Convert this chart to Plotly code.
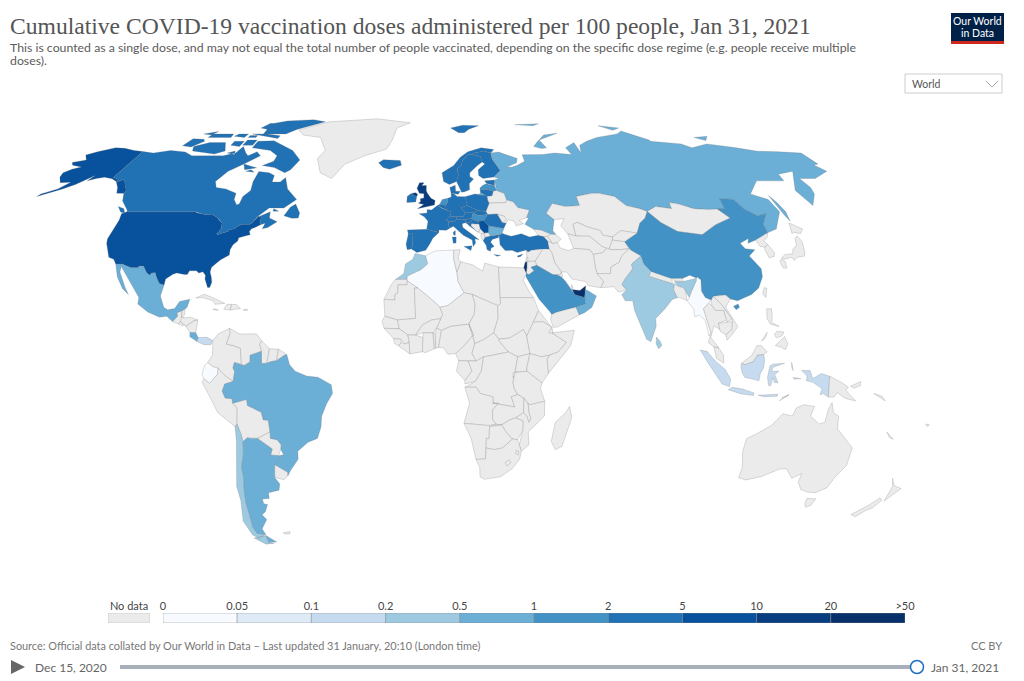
import numpy as np
import plotly.graph_objects as go

# bin edges of the colour legend
legend_labels = ['0', '0.05', '0.1', '0.2', '0.5', '1', '2', '5', '10', '20', '>50']
legend_edges = [0, 0.05, 0.1, 0.2, 0.5, 1, 2, 5, 10, 20]
legend_colors = ['#f7fbff', '#deebf7', '#c6dbef', '#9ecae1', '#6baed6',
                 '#4292c6', '#2171b5', '#08519c', '#083d7f', '#08306b']
no_data_color = '#ebebeb'

# doses per 100 people, read roughly from the colour of each country
doses = {
    'USA': 9.4, 'Canada': 2.7, 'Mexico': 0.55, 'Costa Rica': 0.7, 'Panama': 0.15,
    'Brazil': 0.9, 'Argentina': 0.8, 'Chile': 0.4, 'Ecuador': 0.01,
    'UK': 13.5, 'Ireland': 3.2, 'Iceland': 2.6, 'Norway': 3.3, 'Sweden': 2.8, 'Finland': 2.6,
    'Denmark': 3.9, 'Estonia': 3.6, 'Latvia': 1.5, 'Lithuania': 3.4, 'Poland': 3.9,
    'Germany': 2.8, 'Netherlands': 1.6, 'Belgium': 2.3, 'France': 2.4, 'Spain': 3.2,
    'Portugal': 3.0, 'Italy': 3.4, 'Switzerland': 3.1, 'Austria': 2.7, 'Czechia': 2.4,
    'Slovakia': 2.6, 'Hungary': 1.9, 'Slovenia': 3.7, 'Croatia': 2.2, 'Serbia': 6.0,
    'Romania': 3.2, 'Bulgaria': 0.9, 'Greece': 2.7, 'Turkey': 3.0, 'Cyprus': 2.5,
    'Russia': 0.7, 'Israel': 53, 'UAE': 32, 'Saudi Arabia': 1.5, 'Oman': 0.8,
    'China': 1.6, 'India': 0.3, 'Sri Lanka': 0.3, 'Myanmar': 0.02, 'Indonesia': 0.18,
    'Algeria': 0.01, 'Morocco': 0.4,
}

# country outlines as "lon,lat lon,lat ..." rings
outlines = {
    'USA': [
        '-124.7,48.4 -123,49 -95.2,49 -94.6,48.7 -92,48.3 -89.6,48 -88.4,48.3 -84.9,46.9 -84.5,46.5 -83.5,46 -82.5,45.3 -82.1,43.6 -82.5,42.6 -83.1,42 -82.7,41.7 -79,42.8 -79,43.3 -76.8,43.6 -76.3,44.2 -74.7,45 -71.5,45 -70.8,45.4 -70,46.7 -69.2,47.45 -68.3,47.35 -67.8,47.1 -67.8,45.7 -67,44.9 -69,44 -70.2,43.6 -70.7,42.7 -70,41.7 -71.5,41.4 -74,40.7 -74,39.7 -75.4,38.5 -76,37 -75.7,35.3 -77,34.6 -78.5,33.8 -79.9,32.7 -81.2,31.5 -81.3,30 -80.5,28.4 -80,26.8 -80.4,25.2 -81.2,25.2 -81.8,26.2 -82.7,27.8 -82.8,29 -84,30.1 -85.4,29.7 -86.5,30.4 -89,30.4 -89.5,29.2 -90.5,29.2 -93.5,29.7 -94.8,29.3 -97.1,27.8 -97.2,25.9 -99.1,26.4 -100.5,28.2 -101.5,29.8 -102.7,29.7 -103.2,29 -104.5,29.6 -106.5,31.8 -108.2,31.8 -108.2,31.3 -111,31.3 -114.8,32.5 -117.1,32.5 -118.5,34 -120.6,34.6 -122,36.7 -123.8,39 -124.3,40.4 -124.2,43 -124,46.3',
        '-141,69.6 -141,60.3 -139,60 -137.5,58.9 -135.5,59.7 -133.4,58.4 -130,55.9 -130,55 -133,55 -135,57 -138,59 -141,59.9 -145,60.4 -148,60 -151,59.2 -150,61 -153,59 -154.5,58 -158,56.5 -163,54.8 -165.5,54 -164.8,54.8 -160,56.5 -157.5,58.7 -162,58.6 -165,60.5 -166,62 -164,63.2 -161,64 -166,64.6 -168,65.6 -163,66.5 -166.5,68.3 -163,69.5 -157,71 -152,70.8 -146,70',
    ],
    'Canada': [
        '-141,69.6 -135,69 -128,70 -120,69.4 -115,68 -108,68 -100,68 -95,69 -94,71.5 -90,69 -88,68 -85,69.5 -82,68 -87,65 -92,62.5 -94.5,59 -92.5,57 -88,56.5 -82.5,55 -82,53 -80,51.3 -79,51.5 -79,54 -77,56 -78,59 -78,62.4 -73,62 -70,61 -69.5,58.8 -66,58.8 -64.5,60.3 -61.5,56.5 -56,53 -60,50.2 -66,50.2 -70,47 -65,49 -64.5,47 -61,45.8 -64,44 -66,43.6 -65.5,45.3 -67,44.9 -67.8,45.7 -67.8,47.1 -68.3,47.35 -69.2,47.45 -70,46.7 -70.8,45.4 -71.5,45 -74.7,45 -76.3,44.2 -76.8,43.6 -79,43.3 -79,42.8 -82.7,41.7 -83.1,42 -82.5,42.6 -82.1,43.6 -82.5,45.3 -83.5,46 -84.5,46.5 -84.9,46.9 -88.4,48.3 -89.6,48 -92,48.3 -94.6,48.7 -95.2,49 -123,49 -123.3,49.5 -128,52.5 -130,55 -130,55.9 -133.4,58.4 -135.5,59.7 -137.5,58.9 -139,60 -141,60.3',
        '-59,47.7 -55.5,46.9 -53,47 -53,48.6 -55.7,51.5 -57.5,50.5',
        '-128,50.7 -125,50 -123.5,48.5 -125.5,48.9',
        '-62,66.5 -64,63 -66,62 -72,63.8 -78,64.5 -74,66 -74,68 -79,70 -89,71 -89,73.5 -81,73.7 -73,71.5 -68,70',
        '-117,69.8 -105,68.7 -101,69.8 -105,73 -113,73 -119,71.5',
        '-125,71.8 -120,71.3 -116.5,73.5 -118,74.3 -124,74.5',
        '-90,76.5 -78,76.5 -74,78.5 -62,82 -70,83.1 -85,82.5 -92,81',
        '-96,76.5 -80,74.6 -80,75.7 -88,76.5',
        '-87,65 -80,63.7 -85,63',
        '-117,75 -105,75 -106,76.5 -117,76.5',
        '-95,72 -90,72 -90,74 -95,74',
        '-101,72 -96,71.5 -96,73.5 -101,73.5',
        '-64,50 -61.7,49.2 -64,49.2',
        '-122,76.5 -116,77.5 -117,76',
        '-104,75.5 -98,75 -98,76.5 -103,76.5',
        '-96,75 -92,75 -92,75.8 -96,75.8',
        '-99,69 -95,68.5 -96,69.8',
        '-95,79 -88,78 -87,80.5 -93,81.3',
        '-84,62.5 -80,62.2 -82,63',
    ],
    'Greenland': ['-73,78.2 -60,82 -32,83.6 -12,81.5 -19,79 -20,74 -22,70.5 -32,68 -40,65 -44,60 -50,62 -54,67 -52,70 -58,75 -68,76'],
    'Iceland': ['-24.5,65.5 -22,63.8 -19,63.2 -13.7,64.6 -14.5,66.3 -18,66.5 -22.5,66.6'],
    'Mexico': ['-117.1,32.5 -114.8,32.5 -111,31.3 -108.2,31.3 -108.2,31.8 -106.5,31.8 -104.5,29.6 -103.2,29 -102.7,29.7 -101.5,29.8 -100.5,28.2 -99.1,26.4 -97.2,25.9 -97.8,22.5 -96,19 -94.5,18.2 -92,18.6 -90.6,20.8 -87,21.5 -87.6,19 -88.3,18.4 -89.2,17.9 -91,17.2 -90.5,16.2 -92.2,14.5 -94.5,16.2 -97,15.9 -101.5,17.5 -105.5,20 -105.5,22 -109,26 -112.5,29.8 -114.7,31.7 -114.5,30 -111,25 -109.5,23 -112,24.8 -115,28.5 -116,30.5'],
    'Guatemala': ['-92.2,14.5 -90.5,16.2 -91,17.2 -89.2,17.9 -89.2,15.9 -88.2,15.7 -89.4,14.4 -90.1,13.8'],
    'Belize': ['-89.2,17.9 -88.3,18.4 -88.2,16.5 -89.2,15.9'],
    'Honduras': ['-89.2,15.9 -88.2,15.7 -86,15.9 -83.2,15 -84.7,14.7 -87.3,13 -87.8,13.4 -89.4,14.4'],
    'El Salvador': ['-90.1,13.8 -89.4,14.4 -87.8,13.4 -88.5,13.2'],
    'Nicaragua': ['-87.3,13 -84.7,14.7 -83.2,15 -83.6,11 -85.7,11.1'],
    'Costa Rica': ['-85.7,11.1 -83.6,11 -82.6,9.5 -83,8.3 -85.6,9.8'],
    'Panama': ['-82.6,9.5 -79.5,9.6 -77.4,8.6 -78,7.3 -80.5,7.3 -83,8.3'],
    'Cuba': ['-84.9,21.9 -82,23.1 -77,21.3 -74.2,20.2 -77.7,19.9 -78.5,21 -82.5,22'],
    'Haiti': ['-74.4,18.4 -72,18.1 -71.7,19.9 -73.4,19.9'],
    'Dominican Rep': ['-72,18.1 -68.4,18.6 -69.9,19.8 -71.7,19.9'],
    'Jamaica': ['-78.3,18.3 -76.3,18 -76.5,18.2 -77.5,18.5'],
    'Puerto Rico': ['-67.2,18.4 -65.7,18.2 -66.2,18 -67.2,18'],
    'Colombia': ['-77.4,8.6 -75.5,10.7 -71.7,12.4 -71.3,11 -72.5,7.5 -70,7 -67.5,6.2 -67,1.2 -69.5,1.7 -70,0 -69.4,-1 -70,-4.2 -73,-2.3 -75.2,-0.1 -77,0.4 -79,1.7 -77.3,4 -77.5,7'],
    'Venezuela': ['-71.7,12.4 -68,10.6 -62,10.7 -60,8.5 -60.7,7.5 -60,5.2 -64,4 -64,1.9 -66,0.8 -67,1.2 -67.5,6.2 -70,7 -72.5,7.5 -71.3,11'],
    'Guyana': ['-60,8.5 -57.2,6 -58,1.5 -59.9,1.3 -60,5.2 -60.7,7.5'],
    'Suriname': ['-57.2,6 -54,5.9 -54.6,2.3 -56.5,2 -58,1.5'],
    'French Guiana': ['-54,5.9 -52,4.8 -51,4.2 -52,3.9 -54.6,2.3'],
    'Ecuador': ['-80,0.8 -79,1.7 -77,0.4 -75.2,-0.1 -75.5,-2 -78.3,-4.8 -80.3,-3.4 -81,-2'],
    'Peru': ['-81,-4.5 -80.3,-3.4 -78.3,-4.8 -75.5,-2 -75.2,-0.1 -73,-2.3 -70,-4.2 -73,-5 -74,-7.3 -73,-9.4 -70.6,-9.6 -70.5,-11 -69,-12.5 -69.5,-17.5 -70.3,-18.3 -76,-14 -79,-8'],
    'Bolivia': ['-69,-12.5 -70.5,-11 -65.4,-9.8 -65.3,-11.7 -60.5,-13.8 -60,-16.2 -58.2,-16.3 -58,-20 -62.7,-22 -65,-22 -66.3,-21.8 -68,-23 -68.5,-20.5 -69.5,-17.5'],
    'Paraguay': ['-58,-20 -57.9,-20 -58,-22 -55.6,-22.4 -54.3,-24 -54.6,-25.5 -55.8,-27.4 -58.6,-27.2 -57.7,-25.3 -62.7,-22'],
    'Uruguay': ['-57.6,-30.2 -53.2,-32.6 -53.4,-33.7 -55,-34.9 -58.4,-34.2 -58.2,-33'],
    'Brazil': ['-60,5.2 -59.9,1.3 -58,1.5 -56.5,2 -54.6,2.3 -52,3.9 -51,4.2 -50,1 -48,-1 -44,-2.5 -40,-2.9 -35.3,-5.2 -34.9,-8 -37,-11 -39,-15 -39.5,-18.5 -41,-22 -44.5,-23.2 -48.5,-26 -48.7,-28.5 -52,-32 -53.4,-33.7 -53.2,-32.6 -57.6,-30.2 -55.8,-28.3 -53.8,-27.1 -54.6,-25.5 -54.3,-24 -55.6,-22.4 -58,-22 -57.9,-20 -58.2,-16.3 -60,-16.2 -60.5,-13.8 -65.3,-11.7 -65.4,-9.8 -70.5,-11 -70.6,-9.6 -73,-9.4 -74,-7.3 -73,-5 -70,-4.2 -69.4,-1 -70,0 -69.5,1.7 -67,1.2 -66,0.8 -64,1.9 -64,4'],
    'Chile': [
        '-69.5,-17.5 -68.5,-20.5 -68,-23 -68.5,-27 -70,-31 -70,-34 -71,-38 -71.8,-42 -72,-46 -72.5,-50 -71.8,-52 -68.5,-52.3 -72,-53.5 -74,-52.5 -75.5,-48 -73.5,-41.5 -73.5,-37 -71.5,-30 -70.4,-23 -70.3,-18.3',
        '-68.6,-52.7 -68.6,-54.9 -66.5,-55.2 -70,-55.5 -74,-53.5',
    ],
    'Argentina': [
        '-65,-22 -62.7,-22 -57.7,-25.3 -58.6,-27.2 -55.8,-27.4 -53.8,-27.1 -55.8,-28.3 -57.6,-30.2 -58.2,-33 -58.4,-34.2 -57,-36.3 -57.8,-38.2 -62,-39 -62.3,-40.8 -65,-41 -65,-42.5 -63.6,-42.7 -65.3,-45 -67,-46 -65.8,-47.5 -69,-50.5 -68.5,-52.3 -71.8,-52 -72.5,-50 -72,-46 -71.8,-42 -71,-38 -70,-34 -70,-31 -68.5,-27 -68,-23 -66.3,-21.8',
        '-68.6,-52.7 -65.2,-54.8 -68.6,-54.9',
    ],
    'Falklands': ['-61,-51.8 -58,-51.4 -58.5,-52.2 -60.5,-52.2'],
    'Norway': [
        '5,62 7,63 10.5,64.5 14,67.5 18,69.5 25,71 31,70.3 29,69 26,69.8 21,69 20,68.5 18,68.5 15,66.5 14,64.5 12,63.5 12.2,61 11.2,59 8,58 5.5,59',
        '11,79 15,77 18,77 21,78.5 27,80 18,80.2',
    ],
    'Sweden': ['11.2,59 12.2,61 12,63.5 14,64.5 15,66.5 18,68.5 20,68.5 23.7,67.8 24,65.8 21.5,64.5 17.5,62 17.3,60.7 18.8,59.8 16.7,58.3 16.5,56.2 14.3,55.5 13,55.4 11.8,58'],
    'Finland': ['21,69 26,69.8 29,69 29,66.9 31.5,62.8 28,60.5 23,60 21.3,61 21.5,63 25,65 24,65.8 23.7,67.8 20,68.5'],
    'Denmark': ['8.1,57 10.5,57.7 10.5,55.7 12.5,55.7 11.5,54.7 9.7,54.8 8.5,55'],
    'Estonia': ['23.5,59.2 28,59.5 27.5,57.6 25,58 24.3,58.3'],
    'Latvia': ['21,56.8 22.5,57.7 24.3,58.3 25,58 27.5,57.6 28,56 26.5,55.7 24,56.3 21,56.1'],
    'Lithuania': ['21,56.1 24,56.3 26.5,55.7 25.8,54.2 23.5,54 22.8,54.4 21,55.3'],
    'Belarus': ['23.5,54 25.8,54.2 26.5,55.7 28,56 31,55 31.5,52.9 31,52 24,51.8 23.6,52.6'],
    'Ukraine': ['24,51.8 31,52 31.5,52.9 34,52.3 35.5,50.4 40,49.6 38.2,47.1 35,46.2 36.5,45.2 33.5,44.5 33,46 30.7,46.5 29.7,45.3 28.2,45.5 29.5,47.5 26.6,48.3 22.8,48.1 22.2,49.1'],
    'Moldova': ['26.6,48.3 29.5,47.5 30,46.4 28.2,45.5'],
    'Poland': ['14.2,53.9 18.5,54.8 22.8,54.4 23.5,54 23.6,52.6 24,51.8 22.2,49.1 19,49.4 14.9,51 14.6,52.5'],
    'Germany': ['7,53.4 8.5,53.8 8.5,55 9.7,54.8 11,54 14.2,53.9 14.6,52.5 14.9,51 12.2,50.3 13.8,48.7 13,47.5 10,47.4 7.6,47.6 8.2,49 6.3,49.5 6,51 7,52.3'],
    'Netherlands': ['3.5,51.4 4.7,53 7,53.4 7,52.3 6,51 5.8,50.8 4,51.3'],
    'Belgium': ['2.6,51 3.5,51.4 4,51.3 5.8,50.8 6,51 6.3,49.5 4.8,50 4,50.3'],
    'France': [
        '2.6,51 4,50.3 4.8,50 6.3,49.5 8.2,49 7.6,47.6 6,46.4 7,45.9 7,44.2 7.5,43.8 6,43.1 3.1,43.2 3.1,42.4 -1.7,43.4 -1.2,46 -2.7,47.4 -4.8,48.4 -1.6,48.6 -1.6,49.7 0.2,49.6',
        '8.6,42.5 9.5,43 9.4,41.5 8.8,41.6',
    ],
    'Spain': ['-9.2,43.2 -1.7,43.4 3.1,42.4 0.7,40.6 -0.3,39 -2,36.8 -5.3,36.1 -7.4,37.2 -7,38.5 -7,42 -8.8,41.9'],
    'Portugal': ['-8.8,41.9 -7,42 -7,38.5 -7.4,37.2 -9,37 -9.5,38.7'],
    'Switzerland': ['6,46.4 7.6,47.6 10,47.4 10.4,46.6 9,45.9 7,45.9'],
    'Austria': ['10,47.4 13,47.5 13.8,48.7 17,48.7 16.2,46.9 13.7,46.5 10.4,46.6'],
    'Czechia': ['12.2,50.3 14.9,51 19,49.4 17,48.7 13.8,48.7'],
    'Slovakia': ['17,48.7 19,49.4 22.2,49.1 22.8,48.1 18.8,47.8'],
    'Hungary': ['16.2,46.9 17,48.7 18.8,47.8 22.8,48.1 21,46.2 18.8,45.9 16.5,46.5'],
    'Slovenia': ['13.7,46.5 16.2,46.9 16.5,46.5 15.4,45.5 13.6,45.5'],
    'Croatia': ['13.6,45.5 15.4,45.5 16.5,46.5 18.8,45.9 19,45 16,45.2 15.8,44.5 17.5,43 18.4,42.5 15,44.5 14.3,45.2'],
    'Bosnia': ['16,45.2 19,45 19.3,43.5 18.4,42.5 17.5,43 15.8,44.5'],
    'Serbia': ['18.8,45.9 21,46.2 22.7,44.5 22.4,42.3 20.6,42.2 19.3,43.5 19,45'],
    'Montenegro': ['18.4,42.5 19.3,43.5 20.6,42.2 19.4,41.9'],
    'Albania': ['19.4,41.9 20.6,42.2 20.8,40.8 20,39.7 19.3,40.8'],
    'Macedonia': ['20.6,42.2 22.4,42.3 23,41.3 20.8,40.8'],
    'Greece': [
        '20,39.7 20.8,40.8 23,41.3 26.3,41.7 26,40.8 23.5,40.2 22.8,39.3 24,38 22.8,37.5 22.4,36.5 21.2,37 21,38.4',
        '23.6,35.5 26.2,35.2 24.8,34.9',
    ],
    'Bulgaria': ['22.7,44.5 27.7,43.8 28.5,43.4 27.7,42.5 28,42 26.3,41.7 23,41.3 22.4,42.3'],
    'Romania': ['21,46.2 22.8,48.1 26.6,48.3 28.2,45.5 29.7,45.3 28.5,43.7 27.7,43.8 22.7,44.5'],
    'Italy': [
        '7,45.9 9,45.9 10.4,46.6 13.7,46.5 13.6,45.5 12.3,45.2 12.5,44 16,41.9 18.5,40.1 16.9,40.4 17,39 16,38 15.8,40 12.5,41.5 10.5,43 8.8,44.4 7.5,43.8 7,44.2',
        '12.5,38 15.6,38.2 15.1,36.7',
        '8.2,41 9.7,41 9.6,39.1 8.5,39',
    ],
    'UK': [
        '-5.5,50 -1,50.7 1.4,51.2 1.7,52.7 0,53.4 -1.5,55 -2,55.9 -2,57.6 -4,57.6 -3,58.6 -5,58.6 -6,56.7 -4.9,55 -3,54.9 -3,53.5 -4.5,53.2 -4.3,52.3 -5.2,51.8 -3,51.4',
        '-8,54.5 -6,54 -5.6,54.7 -6.5,55.2 -7.5,55.1',
    ],
    'Ireland': ['-10,52 -6.3,52.2 -6,54 -8,54.5 -7.5,55.1 -8.5,54.9 -10,54'],
    'Turkey': ['26.3,41.7 28,42 31,41.2 35,42 38,41 41.5,41.5 43.5,41.1 44.7,39.7 44.8,37.2 42.3,37.2 38,36.8 36.5,36.2 36,36.9 32.5,36.1 30.6,36.8 28,36.7 26.3,38.5 26.3,40'],
    'Cyprus': ['32.3,35 34.5,35.6 33.7,34.9 32.7,34.6'],
    'Georgia': ['40,43.5 43,43.2 46.5,41.9 45,41.2 43.5,41.1 41.5,41.5'],
    'Armenia': ['43.5,41.1 45,41.2 46.5,38.9 44.7,39.7'],
    'Azerbaijan': ['45,41.2 46.5,41.9 48.3,41.8 50,40.3 48.3,39.2 46.5,38.9'],
    'Russia': [
        '28,59.5 30,60 28,60.5 31.5,62.8 29,66.9 29,69 33,69.4 41,67 40,65.5 35,64 37,63.9 40,64.6 44,66 44,68.4 54,68.5 60,69 68,68.5 67,71 73,73 73,69 75,72 80,73.5 87,75 100,76.5 104,77.7 113,74 113,73.5 127,72.5 130,71 140,72.5 152,71 160,69.7 170,69.5 180,69 180,65 177.5,64.7 179.5,62.5 170,60 163,60 163.5,57 162,54.8 156.7,51 155.5,56 164,62.5 156,61.5 155,59.2 143,59.2 135,54.8 140.5,53 141,49 135,43.5 130.7,42.3 131,45 135,48.4 131,47.7 127.5,49.7 126,53 120.5,53.3 119.5,50 116.5,49.9 113,49.7 107,50 102,51.5 98.5,52 98,50 92,50.7 87.5,49.1 85,50 80,51 77,54 71,55 68,55 61,54 61,51 55,50.7 50,51.7 46.5,48.5 49,46.5 47.5,43 48.3,41.8 46.5,41.9 43,43.2 40,43.5 37,45 39,47 38.2,47.1 40,49.6 35.5,50.4 34,52.3 31.5,52.9 31,55 28,56',
        '51.5,71.5 55,70.7 57.5,71 56,74 68,76.8 60,76 54,73',
        '142,54.3 143,52 143.5,49 142.5,46 142,48',
        '95,80 105,79 100,78',
        '48,80.5 62,81 58,80',
        '138,75 146,75.5 142,73.8',
        '20,54.4 22.8,54.4 21,55.3',
    ],
    'Kazakhstan': ['46.5,48.5 50,51.7 55,50.7 61,51 61,54 68,55 71,55 77,54 80,51 85,50 87.5,49.1 85.5,47 82.5,45.3 80,42.2 74,43 70,41 66.5,41.5 66,43 61,44.3 58,45.6 56,45 56,41.3 53,42 51,44.5 53,46.8 49,46.5'],
    'Mongolia': ['87.5,49.1 92,50.7 98,50 98.5,52 102,51.5 107,50 113,49.7 116.5,49.9 119.5,47 112,44.8 105,41.7 96,42.7 91,45.5'],
    'China': [
        '74,39.5 80,42.2 82.5,45.3 85.5,47 87.5,49.1 91,45.5 96,42.7 105,41.7 112,44.8 119.5,47 116.5,49.9 119.5,50 120.5,53.3 126,53 127.5,49.7 131,47.7 135,48.4 131,45 130.7,42.3 124.5,40 121,39 122,40.5 118,39 119,37.3 122.5,37 119.3,35 122,31 121.5,28.5 119,25 116,23 110.5,21 108,21.6 106.5,22.8 102,22.4 101.2,21.2 99,22 98,24.1 98.7,27.5 95,29 92,28 88.8,28 86,28 81,30.2 79,32.5 78.7,35 75.5,36.8',
        '108.7,19.3 110.5,20 110.8,19 109.5,18.2',
    ],
    'Kyrgyzstan': ['70,41 74,43 80,42.2 74,39.5 69.5,40'],
    'Uzbekistan': ['56,45 58,45.6 61,44.3 66,43 66.5,41.5 70,41 69.5,40 67.5,37.3 65,38 61.2,41.2 56,41.3'],
    'Turkmenistan': ['53,42 56,41.3 61.2,41.2 65,38 66.5,37.3 64.5,36 61,35.5 60,37 54,37.4 53.5,39.5'],
    'Tajikistan': ['67.5,37.3 69.5,40 74,39.5 75,37.3 71.5,37 68,37'],
    'Afghanistan': ['61,35.5 64.5,36 66.5,37.3 68,37 71.5,37 75,37.3 71.5,35 70,33 66.5,31.5 66,29.5 61,29.5 60.8,31.5'],
    'Pakistan': ['61,29.5 66,29.5 66.5,31.5 70,33 71.5,35 75,37.3 75.5,36.8 78.7,35 74.5,32.5 74.5,31 71,27.8 69.5,26 71,24.4 68,23.7 66.5,25.4 61.6,25.1 63,27'],
    'Iran': ['44.7,39.7 46.5,38.9 48.3,39.2 49,37.5 52,36.7 54,37.4 60,37 61,35.5 60.8,31.5 61,29.5 63,27 61.6,25.1 57.3,25.7 56.5,27 51.5,27.8 50,30 48,30 46,33 45.5,36 44.8,37.2'],
    'Iraq': ['38.8,33.4 42.3,37.2 44.8,37.2 45.5,36 46,33 48,30 47.7,29.3 46.5,29.1 44.7,29.2 39.2,32.1'],
    'Syria': ['36,36.9 36.5,36.2 38,36.8 42.3,37.2 38.8,33.4 36,33.3 35.9,34.8'],
    'Lebanon': ['35.1,33.1 36,33.3 36.3,34.5 35.9,34.7'],
    'Jordan': ['35,29.5 35.5,31.5 35.7,33.2 36,33.3 38.8,33.4 39.2,32.1 37,31.5 38,30.4 36,29.2'],
    'Israel': ['34.3,31.3 35,33 35.7,33.2 35.5,31.5 35,29.5'],
    'Saudi Arabia': ['35,29.5 36,29.2 38,30.4 37,31.5 39.2,32.1 44.7,29.2 46.5,29.1 47.7,28.5 49,27.3 50.2,25.5 51.2,24.5 52,23 55.5,22 55.7,20 52,19 48.7,18.3 45,17.4 43.2,16.7 42.7,17.5 39,21.5 37,25 34.8,28.5'],
    'Kuwait': ['46.5,29.1 47.7,29.3 48,30 48.4,28.6 47.7,28.5'],
    'Qatar': ['50.8,24.7 51.2,26.1 51.6,25 51.2,24.5'],
    'UAE': ['51.2,24.5 52,23 55.5,22 56,24.5 56.3,25.7 54,24.2'],
    'Oman': ['55.5,22 56,24.5 56.8,24.2 59.8,22.5 57.8,19 55,17.3 53,16.6 52,19 55.7,20'],
    'Yemen': ['43.2,16.7 45,17.4 48.7,18.3 52,19 53,16.6 45,12.8 43.5,12.7 42.7,15.2'],
    'India': [
        '74.5,31 74.5,32.5 78.7,35 79,32.5 81,30.2 80,28.7 88,26.4 88.8,26.2 88,24.5 89,22 87,21.4 84,18.5 80.3,15.5 80.2,13 78,8.2 76.5,9 73,18 72.7,21 70,21 69,23 71,24.4 69.5,26 71,27.8',
        '88.8,27 92,27 97,28 97,27.3 94.5,24 93.3,22 92.3,23.8 91.8,25 89.8,25.6',
    ],
    'Nepal': ['80,28.7 81,30.2 88.2,27.9 88,26.4'],
    'Bhutan': ['88.8,27.4 89,28 92,28 92,27'],
    'Bangladesh': ['88,24.5 88.8,26.2 89.8,25.6 91.8,25 92.3,23.8 92.3,21 90,22 89,22'],
    'Sri Lanka': ['80,9.7 81.3,8.3 81.8,7 80.6,6 79.8,7.5'],
    'Myanmar': ['92.3,21 93.3,22 94.5,24 97,27.3 97.5,28.5 98.7,27.5 98,24.1 99,22 101,21.2 100,20.3 97.8,18.5 98.5,15 99.5,11 98.7,10 97.8,15 96,16.5 94.3,16 94.3,18.5'],
    'Thailand': ['97.8,18.5 100,20.3 101,19.5 102,18 105,18 105.5,15 102.5,14 102.8,12 100.8,13.2 99.3,9.5 100.2,8.5 102,6.2 100.2,6.6 98.3,8 99.5,11 98.5,15'],
    'Laos': ['101,21.2 102,22.4 104.8,19.5 107.5,15.3 105.5,14.4 105.5,15 105,18 102,18 101,19.5'],
    'Vietnam': ['102,22.4 106.5,22.8 108,21.6 105.8,19 109.3,13 107,10.5 105,8.7 104.7,10.4 107,12 107.5,15.3 104.8,19.5'],
    'Cambodia': ['102.5,14 105.5,14.4 107.5,14.5 107,12 104.7,10.4 102.8,11.5'],
    'Malaysia': [
        '100.2,6.6 102,6.2 103.5,4 103.5,1.5 101,3 100.4,5',
        '109.8,1.5 111.5,2.7 113.5,4 115.5,7 117,7 119,5 117.7,4.2 115.5,4 114,2 111,1',
    ],
    'Indonesia': [
        '95.3,5.6 97.7,5.2 100.5,2.2 104,-0.5 106,-3.5 105.7,-5.8 103,-5 100.5,-2 98,1.5',
        '105.3,-6.8 106.7,-6 110.5,-6.6 114.5,-7.8 114.4,-8.6 110,-8.1',
        '109.5,0.5 109.8,1.5 111,1 114,2 115.5,4 117.7,4.2 118,2.5 117.5,0 116.5,-1.5 116,-4 113,-3.3 111,-3 110,-1.5',
        '119.5,-5.5 119,-3 119.8,0.7 121,1.2 125,1.5 121,0.3 120.3,-1 123,-1 121.5,-2 122.8,-4.7 121.5,-4.5 120.8,-3 120.3,-5.5',
        '116,-8.5 119,-8.3 123,-8.2 122.8,-8.8 118,-9',
        '123.7,-10.2 126.8,-8.4 125,-9.2',
        '127.5,1.8 128,-0.8 127.5,0',
        '131,-0.8 134,-0.8 135,-3.3 138,-1.7 141,-2.6 141,-9.1 139,-8 138,-8.4 138.5,-6.5 135,-4.4 132.8,-4 133,-2.5',
        '128,-3 130.8,-3.3 128.5,-3.5',
    ],
    'Timor': ['124.5,-9.2 127,-8.4 125,-9.4'],
    'Philippines': [
        '120.5,18.5 122.2,18.5 122,16 121.5,14.2 124,13 121,13.7 120,15.5',
        '122,10.5 123,11.5 125.5,11.2 124.5,10 122.5,9.5',
        '122,7 125.5,9.8 126.5,7.5 125.5,5.8 124,6.5',
        '117.2,8.4 119.5,11.2 118.5,9.2',
    ],
    'PNG': ['141,-2.6 145,-4.4 147.8,-6 147,-7 150.8,-10.3 147,-9.5 144,-7.7 143,-9.1 141,-9.1', '148.5,-5.7 152,-4.2 152,-5.5 150,-6.3'],
    'Taiwan': ['121,25.1 122,25 120.9,22 120.1,23.2'],
    'Japan': [
        '130,33.5 131,34 132,33.2 131.5,31.2 130.2,31.3',
        '131,34.3 133,35.5 136,35.7 137,37.2 139,38.2 140,40.5 141.4,41.4 142,39.5 140.8,36 140,35 137,34.6 135.5,33.6 135,34.6 132,34',
        '140,42 141.5,45.4 145.3,43.5 143.2,42 141,42.5',
    ],
    'North Korea': ['124.5,40 130.7,42.3 129.7,41 127.5,39.8 128.3,38.6 126.7,37.8 125,38'],
    'South Korea': ['126.7,37.8 128.3,38.6 129.4,36 128.5,34.8 126.5,34.5 126.3,37'],
    'Australia': [
        '114,-22 113.5,-26 115,-31 115,-34.3 118,-35 123.5,-33.9 129,-31.6 131.5,-31.5 135,-34.5 138,-33 138,-35.6 140.5,-38 143.5,-38.8 146.5,-39 150,-37.5 151,-34 153.2,-30.5 153,-25 149.5,-22 146,-19 145.5,-15 143.5,-14 142.5,-10.8 141.5,-13 141,-17 139,-17.5 135.5,-15 136.5,-12 132.5,-11.5 130,-12.5 129,-15 125.5,-14.3 122,-18 117,-20.7',
        '144.7,-40.8 148.3,-40.9 148,-43 146.5,-43.6 145.3,-42.5',
    ],
    'New Zealand': ['172.7,-34.5 175,-36.8 178.4,-37.7 176.9,-39.5 175.3,-41.6 174.8,-39.8 174.6,-37', '172.7,-40.6 174.2,-41.4 172.8,-43.8 171,-44.6 169,-46.6 166.5,-45.9 170.5,-43'],
    'New Caledonia': ['164,-20 167,-22.3 165.5,-21.8'],
    'Fiji': ['177.3,-17.5 178.7,-17.8 178,-18.3'],
    'Solomon Islands': ['157,-8 160,-8.8 161.3,-10.3 158.5,-8.8'],
    'Madagascar': ['49.3,-12 50.3,-15.5 47.5,-24.5 45.2,-25.5 43.5,-23 44.5,-17 48,-14'],
    'Morocco': ['-6,35.8 -2,35.1 -1.2,32.5 -3.7,30.7 -8.7,28.7 -8.7,27.7 -13,27.7 -10,29.5 -9.5,32.5 -6.8,34'],
    'Western Sahara': ['-13,27.7 -8.7,27.7 -8.7,26 -12,26 -12,23.5 -13,23 -13,21.3 -17,21.4 -14.5,26'],
    'Algeria': ['-2,35.1 1.5,36.6 8.6,36.9 8.5,34 9.5,30 9.9,27 12,23.5 6,19.5 3.2,19 1.2,20.7 -4.8,25 -8.7,27.3 -8.7,28.7 -3.7,30.7 -1.2,32.5'],
    'Tunisia': ['8.6,36.9 11,37 10.2,34 11.2,33.2 9.5,30 8.5,34'],
    'Libya': ['11.2,33.2 15.3,32.3 19,30.3 20,32.8 25,31.6 25,20 24,19.5 14.9,23 12,23.5 9.9,27 9.5,30'],
    'Egypt': ['25,31.6 31,31.5 34.3,31.3 35,29.5 33.7,27.5 35.5,24 37,22 25,22'],
    'Mauritania': ['-17,21.4 -13,21.3 -13,23 -12,23.5 -12,26 -8.7,26 -8.7,27.3 -4.8,25 -6,25 -5.5,15.5 -12,15 -16.5,16.2'],
    'Mali': ['-12,15 -5.5,15.5 -6,25 -4.8,25 1.2,20.7 3.2,19 4.2,16.8 3.5,15.4 0.2,15 -3,13.5 -5.5,10.3 -8.2,10.3 -11.4,12.3'],
    'Niger': ['3.5,15.4 4.2,16.8 3.2,19 6,19.5 12,23.5 14.9,23 15.9,20 15.5,16.9 13.5,13.7 7,13 3.7,11.7 2,12.5'],
    'Chad': ['14.9,23 24,19.5 24,15.7 22.3,11 18.8,8.9 15.5,7.6 15,10.3 13.5,13.7 15.5,16.9 15.9,20'],
    'Sudan': ['24,19.5 25,20 25,22 37,22 38.6,18 36.5,14.3 34,10 32.9,12 28,9.4 24.1,9 22.3,11 24,15.7'],
    'South Sudan': ['24.1,9 28,9.4 32.9,12 34,10 35,4.5 30.7,3.5 27.4,5 24,8.5'],
    'Eritrea': ['36.5,14.3 38.6,18 43,12.7 40,14.5'],
    'Ethiopia': ['34,10 36.5,14.3 40,14.5 43,12.7 43,11 48,8 45,5 41.9,4 39,3.5 35,4.5'],
    'Djibouti': ['41.8,11 43,12.7 43.3,11 42.8,10.9'],
    'Somalia': ['43,11 51,11.8 49.5,7 45,2 41.5,-1.7 41,2.7 41.9,4 45,5 48,8'],
    'Senegal': ['-17.5,14.7 -16.5,16.2 -12,15 -11.4,12.3 -16.7,12.4'],
    'Guinea': ['-16.7,12.4 -11.4,12.3 -8.2,10.3 -7.7,8 -9.4,7.5 -10.7,9 -13.3,9.2'],
    'Sierra Leone': ['-13.3,9.2 -10.7,9 -10.5,8 -11.5,6.9 -13,7.7'],
    'Liberia': ['-11.5,6.9 -10.5,8 -9.4,7.5 -7.7,8 -7.5,4.4'],
    'Cote d Ivoire': ['-8.2,10.3 -5.5,10.3 -2.8,9.5 -3,5.1 -7.5,4.4 -7.7,8'],
    'Burkina Faso': ['-5.5,10.3 -3,13.5 0.2,15 3.5,15.4 2,12.5 0.7,11 -2.8,11'],
    'Ghana': ['-2.8,11 0.7,11 1.2,6 -2,4.8 -3,5.1 -2.8,9.5'],
    'Togo': ['0.7,11 1.5,10.9 1.7,6.2 1.2,6'],
    'Benin': ['1.5,10.9 2,12.5 3.7,11.7 2.7,6.4 1.7,6.2'],
    'Nigeria': ['2.7,6.4 3.7,11.7 7,13 13.5,13.7 15,10.3 11.8,7 8.7,4.5 6,4.3 4.4,6.3'],
    'Cameroon': ['8.7,4.5 11.8,7 15,10.3 13.5,13.7 15.5,7.6 14.5,4.5 16,2.2 9.8,2.3'],
    'CAR': ['14.5,4.5 15.5,7.6 18.8,8.9 22.3,11 24.1,9 24,8.5 27.4,5 22,4 18.6,3.5 16,2.2'],
    'Gabon': ['9.8,2.3 13.2,2.2 14.5,-1 12,-3.9 9,-1'],
    'Congo': ['13.2,2.2 16,2.2 18.6,3.5 17.8,-1 15.7,-4.2 12,-5 12,-3.9 14.5,-1'],
    'DR Congo': ['12,-6 15.7,-4.2 17.8,-1 18.6,3.5 22,4 27.4,5 30.7,3.5 29.5,-1.5 29,-4.5 29.5,-6.5 30.8,-8.3 28.5,-9 29.8,-12.2 27.5,-11.8 22,-11 22,-9 17.5,-8 16,-6'],
    'Uganda': ['30.7,3.5 35,4.5 33.9,0.2 33.9,-1 29.7,-1.4'],
    'Kenya': ['33.9,0.2 35,4.5 39,3.5 41.9,4 41,2.7 41.5,-1.7 39.3,-4.7 33.9,-1'],
    'Rwanda': ['29,-1.5 30.5,-1.1 30.8,-2.4 29,-2.8'],
    'Burundi': ['29,-2.8 30.8,-2.4 30,-4.4 29.4,-4.4'],
    'Tanzania': ['29.7,-1.4 33.9,-1 39.3,-4.7 38.8,-6.5 40.4,-10.4 35,-11.5 33,-9.5 30.8,-8.3 29.5,-6.5 29,-4.5'],
    'Angola': ['12,-6 16,-6 17.5,-8 22,-9 22,-11 24,-11 22,-13 22,-16 23.4,-17.6 20.8,-18 13.5,-17.4 11.8,-17.3 13.7,-11'],
    'Zambia': ['22,-11 27.5,-11.8 29.8,-12.2 28.5,-9 30.8,-8.3 33,-9.5 33,-14 30.2,-15.6 28,-16.3 25.3,-17.8 23.4,-17.6 22,-16 22,-13 24,-11'],
    'Malawi': ['33,-9.5 34.5,-11 35,-14 35.8,-16 35,-17 34.2,-15 33,-14'],
    'Mozambique': ['35,-11.5 40.4,-10.4 40.5,-15 35,-20 35.5,-24 32.9,-26 32,-24 33,-19.5 32.9,-16.5 30.2,-15.6 33,-14 34.2,-15 35,-17 35.8,-16 35,-14 34.5,-11'],
    'Zimbabwe': ['25.3,-17.8 28,-16.3 30.2,-15.6 32.9,-16.5 33,-19.5 31.3,-22.4 29.4,-22.2 27,-20'],
    'Namibia': ['11.8,-17.3 13.5,-17.4 20.8,-18 23.4,-17.6 25.3,-17.8 21,-18.3 21,-22 20,-22 20,-28.4 16.5,-28.6 14.5,-22'],
    'Botswana': ['21,-18.3 25.3,-17.8 27,-20 29.4,-22.2 26,-25 23,-25.5 20,-25 20,-22 21,-22'],
    'South Africa': ['16.5,-28.6 20,-28.4 20,-25 23,-25.5 26,-25 29.4,-22.2 31.3,-22.4 32,-24 32.9,-26 32.5,-28.5 30,-31.5 26,-34 20,-34.8 18.3,-34 18,-31'],
    'Lesotho': ['27.2,-29.6 28.7,-28.7 29.4,-29.6 28,-30.6'],
    'Eswatini': ['31,-25.8 32,-26 31.9,-27.2 30.9,-26.8'],
}

# Robinson projection table, every 5 degrees of latitude
rob_lat = np.arange(0, 95, 5)
rob_len = [1, .9986, .9954, .99, .9822, .973, .96, .9427, .9216, .8962,
           .8679, .835, .7986, .7597, .7186, .6732, .6213, .5722, .5322]
rob_y = [0, .062, .124, .186, .248, .31, .372, .434, .4958, .5571,
         .6176, .6769, .7346, .7903, .8435, .8936, .9394, .9761, 1]


def project(ring):
    pts = np.array([[float(v) for v in p.split(',')] for p in ring.split()])
    lon, lat = pts[:, 0], pts[:, 1]
    xs = lon * np.interp(np.abs(lat), rob_lat, rob_len)
    ys = np.sign(lat) * np.interp(np.abs(lat), rob_lat, rob_y)
    return list(xs) + [xs[0]], list(ys) + [ys[0]]


def bin_color(value):
    if value is None:
        return no_data_color
    return legend_colors[int(np.digitize(value, legend_edges)) - 1]


fig = go.Figure()

for name, rings in outlines.items():
    xs, ys = [], []
    for ring in rings:
        rx, ry = project(ring)
        xs += rx + [None]
        ys += ry + [None]
    value = doses.get(name)
    fig.add_trace(go.Scatter(
        x=xs, y=ys, mode='lines', fill='toself',
        fillcolor=bin_color(value),
        line=dict(color='rgba(110,110,110,0.4)', width=0.6),
        name=name, showlegend=False, hoveron='fills',
        hoverinfo='text', text=f'{name}: {value if value is not None else "No data"}',
        xaxis='x4', yaxis='y4',
    ))

# colour legend
fig.add_trace(go.Bar(
    x=[1] * len(legend_colors), y=[0] * len(legend_colors),
    base=list(range(len(legend_colors))),
    orientation='h', width=1,
    marker=dict(color=legend_colors, line=dict(color='#8a8a8a', width=0.5)),
    xaxis='x', yaxis='y', showlegend=False,
))
fig.add_trace(go.Bar(
    x=[1], y=[0], orientation='h', width=1,
    marker=dict(color=no_data_color, line=dict(color='#b0b0b0', width=0.5)),
    xaxis='x2', yaxis='y2', showlegend=False,
))

# time slider
timeline_dates = ['2020-12-15', '2021-01-31']
fig.add_trace(go.Scatter(
    x=timeline_dates, y=[0, 0], mode='lines',
    line=dict(color='#a8b1ba', width=4),
    xaxis='x3', yaxis='y3', showlegend=False,
))
fig.add_trace(go.Scatter(
    x=timeline_dates[1:], y=[0], mode='markers',
    marker=dict(size=13, color='white', line=dict(color='#1d6fc4', width=1.5)),
    xaxis='x3', yaxis='y3', showlegend=False, cliponaxis=False,
))

# the page body adds an 8px margin around the figure
W, H = 1016, 673
OFF = 8
MAP_X0, MAP_Y0 = 431, 368
MAP_XS, MAP_YS = 2.83, 258


def px_x(v):
    return (v - OFF) / W


def px_y(v):
    return 1 - (v - OFF) / H


def note(text, x, y, size, color='#5b5b5b', family='Lato', anchor='left'):
    return dict(text=text, x=px_x(x), y=px_y(y), xref='paper', yref='paper', showarrow=False,
                xanchor=anchor, yanchor='middle', align=anchor,
                font=dict(size=size, color=color, family=family))


annotations = [
    note('Cumulative COVID-19 vaccination doses administered per 100 people, Jan 31, 2021',
         8, 26, 23.6, '#555555', 'Liberation Serif'),
    note('This is counted as a single dose, and may not equal the total number of people vaccinated, depending on the specific dose regime (e.g. people receive multiple',
         8, 47, 12.3, '#5b5b5b'),
    note('doses).', 8, 61, 12.3, '#5b5b5b'),
    note('Our World', 977.5, 21, 10.5, 'white', 'Lato', 'center'),
    note('in Data', 977.5, 33, 10.5, 'white', 'Lato', 'center'),
    note('World', 910, 84, 10.5, '#555555'),
    note('Source: Official data collated by Our World in Data – Last updated 31 January, 20:10 (London time)',
         8, 645, 10.9, '#777777'),
    note('CC BY', 1004, 645, 11, '#777777', 'Lato', 'right'),
    note('Dec 15, 2020', 33, 667, 12, '#666666'),
    note('Jan 31, 2021', 1001, 667, 12, '#666666', 'Lato', 'right'),
]


def box(x0, y0, x1, y1, **kw):
    return dict(type='rect', xref='paper', yref='paper', x0=px_x(x0), x1=px_x(x1),
                y0=px_y(y0), y1=px_y(y1), **kw)


shapes = [
    box(951, 13, 1004, 41, fillcolor='#002147', line_width=0),
    box(951, 41, 1004, 44, fillcolor='#ce261e', line_width=0),
    box(905, 74, 1002, 93, fillcolor='white', line=dict(color='#cccccc', width=1)),
    dict(type='path', xref='paper', yref='paper', line=dict(color='#aaaaaa', width=1),
         path=f'M {px_x(986)} {px_y(81)} L {px_x(992)} {px_y(87)} L {px_x(998)} {px_y(81)}'),
    dict(type='path', xref='paper', yref='paper', line_width=0, fillcolor='#666666',
         path=f'M {px_x(11)} {px_y(660)} L {px_x(25)} {px_y(667)} L {px_x(11)} {px_y(674)} Z'),
]

fig.update_layout(
    width=W,
    height=H,
    autosize=False,
    margin=dict(l=0, r=0, t=0, b=0),
    paper_bgcolor='white',
    plot_bgcolor='rgba(0,0,0,0)',
    barmode='overlay',
    hovermode='closest',
    font=dict(family='Lato', color='#555555'),
    annotations=annotations,
    shapes=shapes,
    xaxis=dict(domain=[px_x(163), px_x(905)], range=[0, len(legend_colors)], side='top',
               anchor='y', tickmode='array', tickvals=list(range(len(legend_labels))),
               ticktext=legend_labels, showgrid=False, zeroline=False, showline=False,
               automargin=False, ticks='', tickfont=dict(size=11, color='#444444')),
    yaxis=dict(domain=[px_y(623), px_y(613)], range=[-0.5, 0.5], visible=False, automargin=False),
    xaxis2=dict(domain=[px_x(108), px_x(150)], range=[0, 1], side='top', anchor='y2',
                tickmode='array', tickvals=[0.5], ticktext=['No data'], showgrid=False,
                automargin=False, zeroline=False, showline=False, ticks='',
                tickfont=dict(size=11, color='#444444')),
    yaxis2=dict(domain=[px_y(623), px_y(613)], range=[-0.5, 0.5], visible=False, anchor='x2',
                automargin=False),
    xaxis3=dict(domain=[px_x(120), px_x(917)], type='date', range=timeline_dates, visible=False,
                anchor='y3', automargin=False),
    yaxis3=dict(domain=[px_y(674), px_y(660)], range=[-1, 1], visible=False, anchor='x3',
                automargin=False),
    # map axes cover the whole page
    xaxis4=dict(domain=[0, 1], range=[(OFF - MAP_X0) / MAP_XS, (OFF + W - MAP_X0) / MAP_XS],
                visible=False, anchor='y4', automargin=False),
    yaxis4=dict(domain=[0, 1], range=[(MAP_Y0 - OFF - H) / MAP_YS, (MAP_Y0 - OFF) / MAP_YS],
                visible=False, anchor='x4', automargin=False),
)

fig.write_html('out.html')
